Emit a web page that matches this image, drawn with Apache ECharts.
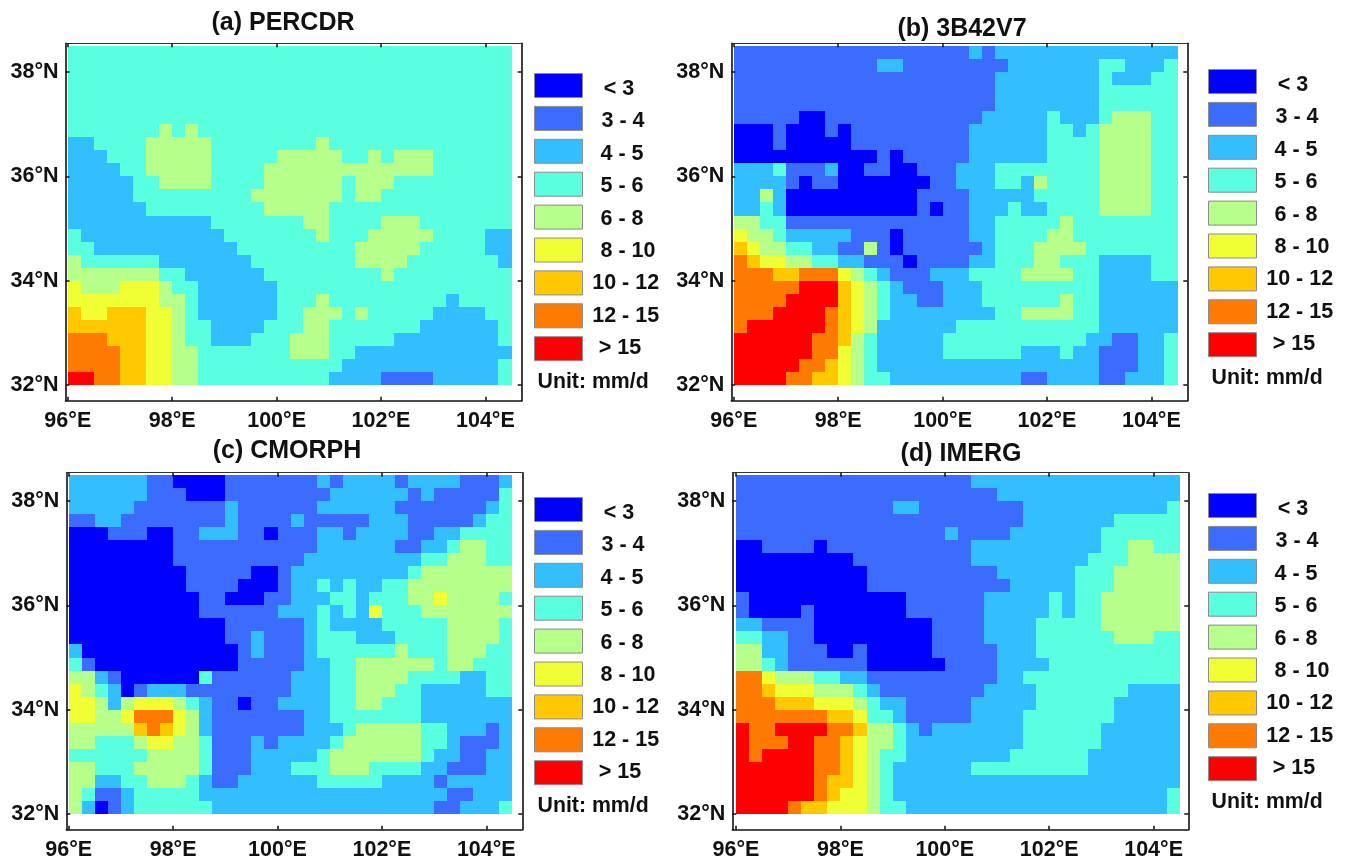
<!DOCTYPE html>
<html>
<head>
<meta charset="utf-8">
<style>html,body{margin:0;padding:0;background:#fff}#c{width:1349px;height:864px}</style>
<script src="https://cdn.jsdelivr.net/npm/echarts@6/dist/echarts.min.js"></script>
</head>
<body>
<div id="c"></div>
<script>
// Class index per 0.25 degree cell (0..8). Rows run north (38.25N) to south (32N), columns west to east from 96E.
var classLabels = ['< 3','3 - 4','4 - 5','5 - 6','6 - 8','8 - 10','10 - 12','12 - 15','> 15'];
var classColors = ['#0000ff','#3b6cff','#33bfff','#5affe0','#b6ff8a','#efff33','#ffc800','#ff7a00','#ff0000'];
var xTicks = [96,98,100,102,104];
var yTicks = [32,34,36,38];
var panelTitles = ['(a) PERCDR','(b) 3B42V7','(c) CMORPH','(d) IMERG'];
var unitLabel = 'Unit: mm/d';

var percdr = [
"3333333333 3333333333 3333333333 3333",
"3333333333 3333333333 3333333333 3333",
"3333333333 3333333333 3333333333 3333",
"3333333333 3333333333 3333333333 3333",
"3333333333 3333333333 3333333333 3333",
"3333333333 3333333333 3333333333 3333",
"3333333434 3333333333 3333333333 3333",
"2233334444 4333333334 3333333333 3333",
"2223334444 4333334444 4334344433 3333",
"2222334444 4333344444 4444444433 3333",
"2222233444 4333344444 4344433333 3333",
"2222233333 3333444444 4344333333 3333",
"2222223333 3333344444 3333333333 3333",
"2222222222 2333333344 3333444333 3333",
"3222222222 2233333334 3334444433 3322",
"3322222222 2223333333 3344444333 3322",
"4333333222 2222333333 3344443333 3332",
"4444444332 2222233333 3333433333 3333",
"5444555433 2222223333 3333333333 3333",
"5555555443 2222223334 3333333332 3333",
"6556665543 2222223344 4343333322 2233",
"6666665543 3222233344 3333333222 2223",
"7776665543 3222333444 3333322222 2223",
"7777665544 3333333444 3322222222 2222",
"7777665544 3333333333 3222222222 2223",
"8877665544 3333333333 2222111122 2223"
];
var trmm3b42 = [
"1111111111 1111111121 2222222222 2222",
"1111111111 1221111111 1222222233 2223",
"1111111111 1111111111 2222222232 2233",
"1111111111 1111111111 2222222233 3333",
"1111111111 1111111111 2222222233 3333",
"1111100111 1111111112 2222322234 4433",
"0001000101 1111111122 2222332344 4433",
"0001000001 1111111122 2222333344 4433",
"0000000000 0101111122 2222333344 4433",
"2223111200 1100111222 3333333344 4433",
"2222101100 0000011222 3324333344 4433",
"2242000000 0000111122 2223333344 4433",
"2232000000 0000101122 2322333344 4433",
"4433111111 1111111122 3333343333 3333",
"5443222221 1101111122 3333443333 3333",
"6544332211 4101111112 3334444333 3333",
"7655443322 1110111122 3334433322 2233",
"7776677754 3211122233 3344443322 2233",
"7777788865 4321112223 3333333322 2222",
"7777888865 4322112223 3333343322 2222",
"7778888765 4322222222 3344443322 2222",
"7888888765 4222222333 3333333322 2222",
"8888887764 3222223333 3333333221 1223",
"8888887754 3222223333 3322232211 1223",
"8888877654 3222222222 2222222211 1223",
"8888776654 3322222222 2211222211 2223"
];
var cmorph = [
"2222221100 0011111112 1222212222 1112",
"2222221110 0011111111 2222221211 1113",
"2222211111 1121111112 2222211111 1123",
"1122111111 1121111211 1112221111 1233",
"0001110011 2221101112 2122221122 3333",
"0000000011 1111111112 2222211223 4433",
"0000000011 1111111122 2222222334 4433",
"0000000001 1111001222 2222223444 4444",
"0000000001 1110001223 2322334444 4444",
"0000000000 1100011222 3323334454 4443",
"0000000000 1111112223 2325333444 4444",
"0000000000 0011111123 2222333334 4443",
"0000000000 0011211123 3322233334 4443",
"2000000000 0001211123 3333343334 4433",
"3100000000 0001111122 3344444434 4333",
"4421000000 3111111222 3344443333 2233",
"5432012221 1111111222 3344433222 2233",
"5542455543 2110112222 3344333222 2222",
"5544577754 2111111122 3333333222 2222",
"4444467654 2111111122 2344444332 2212",
"4433345544 3111212222 3444444332 1112",
"3333334444 3111222223 4444444322 1122",
"4433344444 3111222333 4443333221 1122",
"4422334443 2112222223 3333222212 2222",
"4311233333 2222222222 2222222221 1222",
"4201233333 3222222222 2222222211 2223"
];
var imerg = [
"1111111111 1111111122 2222222222 2222",
"1111111111 1111111111 2222222222 2222",
"1111111111 1122111111 1122222222 2223",
"1111111111 1111111111 1122222223 3333",
"1111111111 1111112111 1222222233 3333",
"0011110111 1111111122 2222222233 4433",
"0000000001 1111111122 2222222333 4444",
"0000000000 1111111111 2222223334 4444",
"0000000000 1111111111 1222223334 4444",
"1000000000 0001111112 2222323344 4444",
"1000010000 0001111112 2222323344 4444",
"2211110000 0000011112 2223333344 4444",
"3322110000 0000011112 2223333334 4433",
"4422111001 0000011111 2223333333 3333",
"4432111111 0000001111 2222333333 3333",
"7754443322 1111111111 2233333333 3333",
"7765554443 2111111112 2223333333 2222",
"7776665554 3221111122 2223333332 2222",
"7777777665 3321111122 2233333332 2222",
"8778888776 4432122222 2233333322 2222",
"8777887765 4432222222 2233333322 2222",
"8788887765 4332222222 2333333222 2222",
"8888887765 4322222233 3333333222 2222",
"8888887665 4322222222 2222222222 2222",
"8888887655 4322222222 2222222222 2223",
"8888766555 4332222222 2222222222 2223"
];
var panelData = [percdr, trmm3b42, cmorph, imerg];

// layout (pixels)
var PX_PER_DEG = 52.2;
var FONT = '"Liberation Sans", Arial, sans-serif';
var layouts = [
  {l:65.5,  t:43.3,  r:521.7,  b:400.7, x96:67.8,  y32:385.2, titleX:283, titleY:11,  dx:0,   dy:0},
  {l:731.3, t:43.3,  r:1187.3, b:400.7, x96:733.8, y32:385.2, titleX:962, titleY:17,  dx:674, dy:-4},
  {l:66.3,  t:472.7, r:522.3,  b:829.7, x96:68.7,  y32:814.1, titleX:287, titleY:439, dx:0,   dy:424},
  {l:732.3, t:472.7, r:1188.3, b:829.7, x96:736.0, y32:814.1, titleX:961, titleY:442, dx:674, dy:420}
];
var legendTextOffset = [85,89,88,88,88,94,91.7,91.7,86];

function decode(rows){
  var out = [];
  rows.forEach(function(row,i){
    var s = row.replace(/ /g,'');
    for (var c=0;c<s.length;c++) out.push([96+0.25*c, 38.25-0.25*i, +s[c]]);
  });
  return out;
}
function renderCell(params, api){
  var p0 = api.coord([api.value(0), api.value(1)]);
  var p1 = api.coord([api.value(0)+0.25, api.value(1)+0.25]);
  var x0 = Math.round(p0[0]), x1 = Math.round(p1[0]), y0 = Math.round(p0[1]), y1 = Math.round(p1[1]);
  return {type:'rect', shape:{x:x0,y:y1,width:x1-x0,height:y0-y1},
    style:{fill:classColors[api.value(2)]}};
}

var grids=[],xAxes=[],yAxes=[],series=[],titles=[],graphics=[];
layouts.forEach(function(g,i){
  grids.push({left:g.l,top:g.t,width:g.r-g.l,height:g.b-g.t,containLabel:false});
  var xMin = 96-(g.x96-g.l)/PX_PER_DEG, xMax = 96+(g.r-g.x96)/PX_PER_DEG;
  var yMin = 32-(g.b-g.y32)/PX_PER_DEG, yMax = 32+(g.y32-g.t)/PX_PER_DEG;
  var line = {show:true,onZero:false,lineStyle:{color:'#111',width:1.6}};
  var thin = {show:true,onZero:false,lineStyle:{color:'#333',width:1}};
  var tick = {show:true,inside:true,length:4,lineStyle:{color:'#111',width:1.5}};
  function xa(pos,lab){
    return {type:'value',gridIndex:i,position:pos,min:xMin,max:xMax,z:5,splitLine:{show:false},
      axisLine:lab?line:thin,axisTick:Object.assign({customValues:xTicks},tick),
      axisLabel:lab?{show:true,customValues:xTicks,margin:9,color:'#111',fontFamily:FONT,fontWeight:'bold',fontSize:21.5,
        formatter:function(v){return v+'°E';}}:{show:false}};
  }
  function ya(pos,lab){
    return {type:'value',gridIndex:i,position:pos,min:yMin,max:yMax,z:5,splitLine:{show:false},
      axisLine:line,axisTick:Object.assign({customValues:yTicks},tick),
      axisLabel:lab?{show:true,customValues:yTicks,margin:7,color:'#111',fontFamily:FONT,fontWeight:'bold',fontSize:21.5,
        padding:[2,0,0,0],formatter:function(v){return v+'°N';}}:{show:false}};
  }
  xAxes.push(xa('bottom',true),xa('top',false));
  yAxes.push(ya('left',true),ya('right',false));
  series.push({type:'custom',xAxisIndex:i*2,yAxisIndex:i*2,z:2,silent:true,animation:false,clip:true,
    renderItem:renderCell,encode:{x:0,y:1},data:decode(panelData[i])});
  titles.push({text:panelTitles[i],left:g.titleX,top:g.titleY,textAlign:'center',padding:0,
    textStyle:{color:'#111',fontFamily:FONT,fontWeight:'bold',fontSize:25}});
  classLabels.forEach(function(lab,k){
    graphics.push({type:'rect',silent:true,shape:{x:534.5+g.dx,y:73.5+32.9*k+g.dy,width:48,height:24},
      style:{fill:classColors[k],stroke:'#8c8c8c',lineWidth:1}});
    graphics.push({type:'text',silent:true,x:534+legendTextOffset[k]+g.dx,y:89+32.4*k+g.dy,
      style:{text:lab,fill:'#111',font:'bold 21.5px '+FONT,textAlign:'center',textVerticalAlign:'middle'}});
  });
  graphics.push({type:'text',silent:true,x:537.5+g.dx,y:382.5+g.dy,
    style:{text:unitLabel,fill:'#111',font:'bold 21.3px '+FONT,textAlign:'left',textVerticalAlign:'middle'}});
});

var chart = echarts.init(document.getElementById('c'),null,{renderer:'canvas',width:1349,height:864});
chart.setOption({animation:false,backgroundColor:'#fff',title:titles,grid:grids,xAxis:xAxes,yAxis:yAxes,series:series,
  graphic:{elements:graphics}});
</script>
</body>
</html>
